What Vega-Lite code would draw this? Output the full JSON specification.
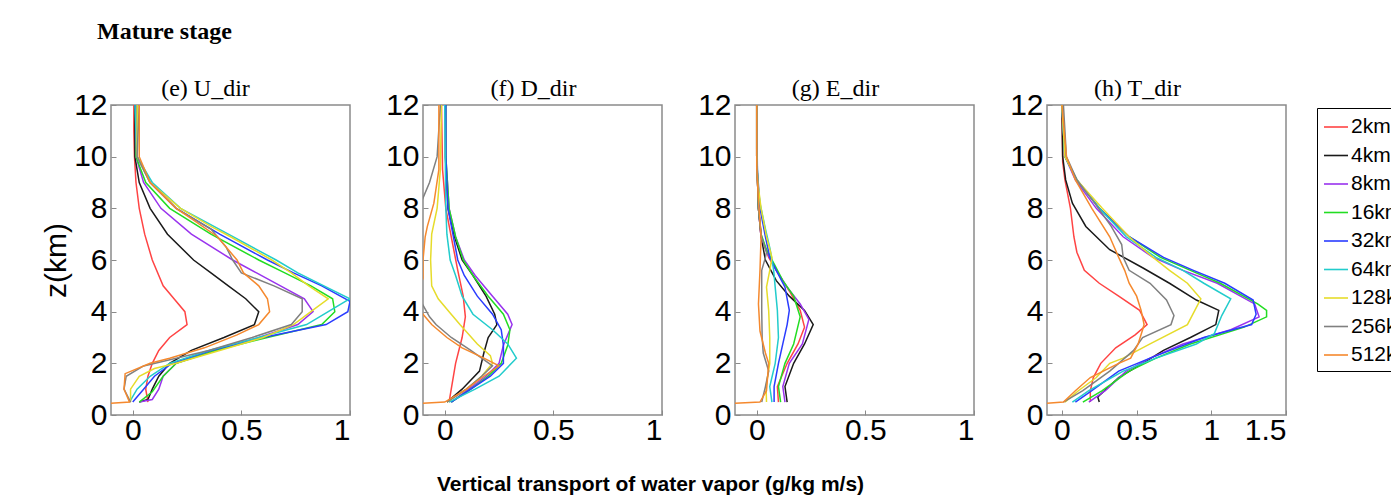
{
  "$schema": "https://vega.github.io/schema/vega-lite/v6.json",
  "background": "white",
  "padding": {"left": 40, "top": 20, "right": 0, "bottom": 5},
  "title": {"text": "Mature stage", "anchor": "start", "frame": "group", "font": "Liberation Serif", "fontSize": 24, "fontWeight": "bold", "color": "black", "dx": -14, "offset": 32},
  "data": {"values": [
{"panel":"e","res":"2km","z":0.5,"flux":0.07},{"panel":"e","res":"2km","z":1.0,"flux":0.06},{"panel":"e","res":"2km","z":1.5,"flux":0.07},{"panel":"e","res":"2km","z":2.0,"flux":0.09},{"panel":"e","res":"2km","z":2.5,"flux":0.12},{"panel":"e","res":"2km","z":3.0,"flux":0.17},{"panel":"e","res":"2km","z":3.5,"flux":0.25},{"panel":"e","res":"2km","z":4.0,"flux":0.24},{"panel":"e","res":"2km","z":4.5,"flux":0.19},{"panel":"e","res":"2km","z":5.0,"flux":0.14},{"panel":"e","res":"2km","z":6.0,"flux":0.09},{"panel":"e","res":"2km","z":7.0,"flux":0.055},{"panel":"e","res":"2km","z":8.0,"flux":0.03},{"panel":"e","res":"2km","z":9.0,"flux":0.015},{"panel":"e","res":"2km","z":10.0,"flux":0.008},{"panel":"e","res":"2km","z":11.0,"flux":0.005},{"panel":"e","res":"2km","z":12.0,"flux":0.005},
{"panel":"e","res":"4km","z":0.5,"flux":0.03},{"panel":"e","res":"4km","z":0.6,"flux":0.07},{"panel":"e","res":"4km","z":1.0,"flux":0.09},{"panel":"e","res":"4km","z":1.5,"flux":0.12},{"panel":"e","res":"4km","z":2.0,"flux":0.17},{"panel":"e","res":"4km","z":2.5,"flux":0.27},{"panel":"e","res":"4km","z":3.0,"flux":0.42},{"panel":"e","res":"4km","z":3.5,"flux":0.56},{"panel":"e","res":"4km","z":4.0,"flux":0.58},{"panel":"e","res":"4km","z":4.5,"flux":0.52},{"panel":"e","res":"4km","z":5.0,"flux":0.44},{"panel":"e","res":"4km","z":5.5,"flux":0.36},{"panel":"e","res":"4km","z":6.0,"flux":0.28},{"panel":"e","res":"4km","z":7.0,"flux":0.16},{"panel":"e","res":"4km","z":8.0,"flux":0.08},{"panel":"e","res":"4km","z":9.0,"flux":0.03},{"panel":"e","res":"4km","z":10.0,"flux":0.01},{"panel":"e","res":"4km","z":12.0,"flux":0.01},
{"panel":"e","res":"8km","z":0.5,"flux":0.03},{"panel":"e","res":"8km","z":0.6,"flux":0.09},{"panel":"e","res":"8km","z":1.0,"flux":0.12},{"panel":"e","res":"8km","z":1.5,"flux":0.14},{"panel":"e","res":"8km","z":2.0,"flux":0.2},{"panel":"e","res":"8km","z":2.5,"flux":0.38},{"panel":"e","res":"8km","z":3.0,"flux":0.58},{"panel":"e","res":"8km","z":3.5,"flux":0.76},{"panel":"e","res":"8km","z":4.0,"flux":0.83},{"panel":"e","res":"8km","z":4.5,"flux":0.79},{"panel":"e","res":"8km","z":5.0,"flux":0.68},{"panel":"e","res":"8km","z":5.5,"flux":0.57},{"panel":"e","res":"8km","z":6.0,"flux":0.46},{"panel":"e","res":"8km","z":7.0,"flux":0.27},{"panel":"e","res":"8km","z":8.0,"flux":0.13},{"panel":"e","res":"8km","z":9.0,"flux":0.05},{"panel":"e","res":"8km","z":10.0,"flux":0.015},{"panel":"e","res":"8km","z":12.0,"flux":0.015},
{"panel":"e","res":"16km","z":0.5,"flux":0.03},{"panel":"e","res":"16km","z":0.9,"flux":0.09},{"panel":"e","res":"16km","z":1.5,"flux":0.14},{"panel":"e","res":"16km","z":2.0,"flux":0.2},{"panel":"e","res":"16km","z":2.5,"flux":0.38},{"panel":"e","res":"16km","z":3.0,"flux":0.62},{"panel":"e","res":"16km","z":3.5,"flux":0.87},{"panel":"e","res":"16km","z":4.0,"flux":0.93},{"panel":"e","res":"16km","z":4.5,"flux":0.92},{"panel":"e","res":"16km","z":5.0,"flux":0.82},{"panel":"e","res":"16km","z":5.5,"flux":0.7},{"panel":"e","res":"16km","z":6.0,"flux":0.58},{"panel":"e","res":"16km","z":7.0,"flux":0.36},{"panel":"e","res":"16km","z":8.0,"flux":0.17},{"panel":"e","res":"16km","z":9.0,"flux":0.06},{"panel":"e","res":"16km","z":10.0,"flux":0.015},{"panel":"e","res":"16km","z":12.0,"flux":0.02},
{"panel":"e","res":"32km","z":0.5,"flux":0.0},{"panel":"e","res":"32km","z":1.0,"flux":0.05},{"panel":"e","res":"32km","z":1.5,"flux":0.1},{"panel":"e","res":"32km","z":2.0,"flux":0.18},{"panel":"e","res":"32km","z":2.5,"flux":0.36},{"panel":"e","res":"32km","z":3.0,"flux":0.6},{"panel":"e","res":"32km","z":3.5,"flux":0.89},{"panel":"e","res":"32km","z":4.0,"flux":0.99},{"panel":"e","res":"32km","z":4.4,"flux":1.0},{"panel":"e","res":"32km","z":5.0,"flux":0.87},{"panel":"e","res":"32km","z":5.5,"flux":0.74},{"panel":"e","res":"32km","z":6.0,"flux":0.62},{"panel":"e","res":"32km","z":7.0,"flux":0.4},{"panel":"e","res":"32km","z":8.0,"flux":0.2},{"panel":"e","res":"32km","z":9.0,"flux":0.08},{"panel":"e","res":"32km","z":10.0,"flux":0.02},{"panel":"e","res":"32km","z":12.0,"flux":0.015},
{"panel":"e","res":"64km","z":0.5,"flux":-0.015},{"panel":"e","res":"64km","z":1.0,"flux":0.02},{"panel":"e","res":"64km","z":1.5,"flux":0.08},{"panel":"e","res":"64km","z":2.0,"flux":0.17},{"panel":"e","res":"64km","z":2.5,"flux":0.35},{"panel":"e","res":"64km","z":3.0,"flux":0.58},{"panel":"e","res":"64km","z":3.5,"flux":0.8},{"panel":"e","res":"64km","z":4.0,"flux":0.9},{"panel":"e","res":"64km","z":4.5,"flux":1.0},{"panel":"e","res":"64km","z":5.0,"flux":0.88},{"panel":"e","res":"64km","z":5.5,"flux":0.76},{"panel":"e","res":"64km","z":6.0,"flux":0.66},{"panel":"e","res":"64km","z":7.0,"flux":0.44},{"panel":"e","res":"64km","z":8.0,"flux":0.22},{"panel":"e","res":"64km","z":9.0,"flux":0.09},{"panel":"e","res":"64km","z":10.0,"flux":0.02},{"panel":"e","res":"64km","z":12.0,"flux":0.01},
{"panel":"e","res":"128km","z":0.5,"flux":-0.01},{"panel":"e","res":"128km","z":1.0,"flux":-0.01},{"panel":"e","res":"128km","z":1.5,"flux":0.03},{"panel":"e","res":"128km","z":1.8,"flux":0.1},{"panel":"e","res":"128km","z":2.0,"flux":0.2},{"panel":"e","res":"128km","z":2.5,"flux":0.4},{"panel":"e","res":"128km","z":3.0,"flux":0.6},{"panel":"e","res":"128km","z":3.5,"flux":0.74},{"panel":"e","res":"128km","z":4.0,"flux":0.82},{"panel":"e","res":"128km","z":4.5,"flux":0.9},{"panel":"e","res":"128km","z":5.0,"flux":0.81},{"panel":"e","res":"128km","z":5.5,"flux":0.73},{"panel":"e","res":"128km","z":6.0,"flux":0.64},{"panel":"e","res":"128km","z":6.9,"flux":0.45},{"panel":"e","res":"128km","z":7.3,"flux":0.36},{"panel":"e","res":"128km","z":8.0,"flux":0.22},{"panel":"e","res":"128km","z":9.0,"flux":0.08},{"panel":"e","res":"128km","z":10.0,"flux":0.02},{"panel":"e","res":"128km","z":12.0,"flux":0.02},
{"panel":"e","res":"256km","z":0.5,"flux":-0.01},{"panel":"e","res":"256km","z":1.0,"flux":-0.04},{"panel":"e","res":"256km","z":1.5,"flux":-0.03},{"panel":"e","res":"256km","z":1.9,"flux":0.05},{"panel":"e","res":"256km","z":2.2,"flux":0.2},{"panel":"e","res":"256km","z":2.5,"flux":0.35},{"panel":"e","res":"256km","z":3.0,"flux":0.55},{"panel":"e","res":"256km","z":3.5,"flux":0.73},{"panel":"e","res":"256km","z":4.0,"flux":0.78},{"panel":"e","res":"256km","z":4.5,"flux":0.78},{"panel":"e","res":"256km","z":5.0,"flux":0.65},{"panel":"e","res":"256km","z":5.5,"flux":0.5},{"panel":"e","res":"256km","z":6.0,"flux":0.46},{"panel":"e","res":"256km","z":6.5,"flux":0.43},{"panel":"e","res":"256km","z":7.2,"flux":0.36},{"panel":"e","res":"256km","z":8.0,"flux":0.2},{"panel":"e","res":"256km","z":9.0,"flux":0.08},{"panel":"e","res":"256km","z":10.0,"flux":0.02},{"panel":"e","res":"256km","z":12.0,"flux":0.03},
{"panel":"e","res":"512km","z":0.45,"flux":-0.1},{"panel":"e","res":"512km","z":0.5,"flux":-0.015},{"panel":"e","res":"512km","z":1.0,"flux":-0.04},{"panel":"e","res":"512km","z":1.6,"flux":-0.035},{"panel":"e","res":"512km","z":2.0,"flux":0.08},{"panel":"e","res":"512km","z":2.2,"flux":0.17},{"panel":"e","res":"512km","z":2.6,"flux":0.33},{"panel":"e","res":"512km","z":3.1,"flux":0.48},{"panel":"e","res":"512km","z":3.5,"flux":0.58},{"panel":"e","res":"512km","z":4.0,"flux":0.63},{"panel":"e","res":"512km","z":4.5,"flux":0.62},{"panel":"e","res":"512km","z":5.0,"flux":0.58},{"panel":"e","res":"512km","z":5.5,"flux":0.51},{"panel":"e","res":"512km","z":6.0,"flux":0.48},{"panel":"e","res":"512km","z":6.9,"flux":0.39},{"panel":"e","res":"512km","z":7.6,"flux":0.27},{"panel":"e","res":"512km","z":8.0,"flux":0.2},{"panel":"e","res":"512km","z":9.0,"flux":0.08},{"panel":"e","res":"512km","z":10.0,"flux":0.03},{"panel":"e","res":"512km","z":12.0,"flux":0.03},

{"panel":"f","res":"2km","z":0.5,"flux":0.02},{"panel":"f","res":"2km","z":1.0,"flux":0.03},{"panel":"f","res":"2km","z":2.0,"flux":0.05},{"panel":"f","res":"2km","z":3.0,"flux":0.08},{"panel":"f","res":"2km","z":3.8,"flux":0.095},{"panel":"f","res":"2km","z":4.6,"flux":0.085},{"panel":"f","res":"2km","z":5.6,"flux":0.06},{"panel":"f","res":"2km","z":6.9,"flux":0.03},{"panel":"f","res":"2km","z":8.0,"flux":0.005},{"panel":"f","res":"2km","z":9.5,"flux":-0.01},{"panel":"f","res":"2km","z":12.0,"flux":-0.015},
{"panel":"f","res":"4km","z":0.5,"flux":0.01},{"panel":"f","res":"4km","z":1.0,"flux":0.08},{"panel":"f","res":"4km","z":1.7,"flux":0.16},{"panel":"f","res":"4km","z":2.4,"flux":0.18},{"panel":"f","res":"4km","z":3.0,"flux":0.2},{"panel":"f","res":"4km","z":3.5,"flux":0.24},{"panel":"f","res":"4km","z":3.9,"flux":0.23},{"panel":"f","res":"4km","z":4.6,"flux":0.19},{"panel":"f","res":"4km","z":5.4,"flux":0.13},{"panel":"f","res":"4km","z":6.0,"flux":0.08},{"panel":"f","res":"4km","z":6.9,"flux":0.045},{"panel":"f","res":"4km","z":8.0,"flux":0.015},{"panel":"f","res":"4km","z":10.0,"flux":0.003},{"panel":"f","res":"4km","z":12.0,"flux":0.003},
{"panel":"f","res":"8km","z":0.5,"flux":0.03},{"panel":"f","res":"8km","z":1.0,"flux":0.11},{"panel":"f","res":"8km","z":1.5,"flux":0.19},{"panel":"f","res":"8km","z":2.0,"flux":0.25},{"panel":"f","res":"8km","z":2.7,"flux":0.27},{"panel":"f","res":"8km","z":3.5,"flux":0.31},{"panel":"f","res":"8km","z":3.9,"flux":0.29},{"panel":"f","res":"8km","z":4.6,"flux":0.22},{"panel":"f","res":"8km","z":5.4,"flux":0.14},{"panel":"f","res":"8km","z":6.0,"flux":0.09},{"panel":"f","res":"8km","z":6.9,"flux":0.05},{"panel":"f","res":"8km","z":8.0,"flux":0.02},{"panel":"f","res":"8km","z":10.0,"flux":0.005},{"panel":"f","res":"8km","z":12.0,"flux":0.003},
{"panel":"f","res":"16km","z":0.5,"flux":0.03},{"panel":"f","res":"16km","z":1.0,"flux":0.12},{"panel":"f","res":"16km","z":1.5,"flux":0.2},{"panel":"f","res":"16km","z":2.0,"flux":0.26},{"panel":"f","res":"16km","z":2.7,"flux":0.29},{"panel":"f","res":"16km","z":3.3,"flux":0.3},{"panel":"f","res":"16km","z":3.9,"flux":0.27},{"panel":"f","res":"16km","z":4.6,"flux":0.2},{"panel":"f","res":"16km","z":5.4,"flux":0.13},{"panel":"f","res":"16km","z":6.0,"flux":0.085},{"panel":"f","res":"16km","z":6.9,"flux":0.05},{"panel":"f","res":"16km","z":8.0,"flux":0.02},{"panel":"f","res":"16km","z":10.0,"flux":0.005},{"panel":"f","res":"16km","z":12.0,"flux":0.005},
{"panel":"f","res":"32km","z":0.5,"flux":0.03},{"panel":"f","res":"32km","z":1.0,"flux":0.12},{"panel":"f","res":"32km","z":1.5,"flux":0.21},{"panel":"f","res":"32km","z":2.0,"flux":0.27},{"panel":"f","res":"32km","z":2.7,"flux":0.27},{"panel":"f","res":"32km","z":3.3,"flux":0.26},{"panel":"f","res":"32km","z":3.9,"flux":0.22},{"panel":"f","res":"32km","z":4.6,"flux":0.15},{"panel":"f","res":"32km","z":5.4,"flux":0.09},{"panel":"f","res":"32km","z":6.0,"flux":0.06},{"panel":"f","res":"32km","z":6.9,"flux":0.04},{"panel":"f","res":"32km","z":8.0,"flux":0.015},{"panel":"f","res":"32km","z":10.0,"flux":0.005},{"panel":"f","res":"32km","z":12.0,"flux":0.005},
{"panel":"f","res":"64km","z":0.5,"flux":0.02},{"panel":"f","res":"64km","z":1.0,"flux":0.14},{"panel":"f","res":"64km","z":1.5,"flux":0.25},{"panel":"f","res":"64km","z":2.2,"flux":0.33},{"panel":"f","res":"64km","z":2.75,"flux":0.29},{"panel":"f","res":"64km","z":3.3,"flux":0.22},{"panel":"f","res":"64km","z":3.9,"flux":0.13},{"panel":"f","res":"64km","z":4.6,"flux":0.08},{"panel":"f","res":"64km","z":5.4,"flux":0.05},{"panel":"f","res":"64km","z":6.0,"flux":0.025},{"panel":"f","res":"64km","z":7.0,"flux":0.01},{"panel":"f","res":"64km","z":8.0,"flux":0.005},{"panel":"f","res":"64km","z":12.0,"flux":0.0},
{"panel":"f","res":"128km","z":0.5,"flux":0.01},{"panel":"f","res":"128km","z":1.0,"flux":0.1},{"panel":"f","res":"128km","z":1.5,"flux":0.17},{"panel":"f","res":"128km","z":2.0,"flux":0.22},{"panel":"f","res":"128km","z":2.3,"flux":0.21},{"panel":"f","res":"128km","z":2.75,"flux":0.15},{"panel":"f","res":"128km","z":3.5,"flux":0.07},{"panel":"f","res":"128km","z":4.0,"flux":0.02},{"panel":"f","res":"128km","z":4.5,"flux":-0.03},{"panel":"f","res":"128km","z":5.0,"flux":-0.06},{"panel":"f","res":"128km","z":6.0,"flux":-0.065},{"panel":"f","res":"128km","z":7.0,"flux":-0.06},{"panel":"f","res":"128km","z":8.0,"flux":-0.035},{"panel":"f","res":"128km","z":9.5,"flux":-0.02},{"panel":"f","res":"128km","z":12.0,"flux":-0.015},
{"panel":"f","res":"256km","z":0.5,"flux":0.01},{"panel":"f","res":"256km","z":1.0,"flux":0.1},{"panel":"f","res":"256km","z":1.5,"flux":0.17},{"panel":"f","res":"256km","z":1.9,"flux":0.22},{"panel":"f","res":"256km","z":2.5,"flux":0.12},{"panel":"f","res":"256km","z":3.0,"flux":0.03},{"panel":"f","res":"256km","z":3.5,"flux":-0.04},{"panel":"f","res":"256km","z":3.8,"flux":-0.07},{"panel":"f","res":"256km","z":4.25,"flux":-0.1},{"panel":"f","res":"256km","z":5.0,"flux":-0.14},{"panel":"f","res":"256km","z":6.0,"flux":-0.15},{"panel":"f","res":"256km","z":7.0,"flux":-0.14},{"panel":"f","res":"256km","z":8.0,"flux":-0.12},{"panel":"f","res":"256km","z":9.0,"flux":-0.07},{"panel":"f","res":"256km","z":10.0,"flux":-0.035},{"panel":"f","res":"256km","z":12.0,"flux":-0.02},
{"panel":"f","res":"512km","z":0.45,"flux":-0.1},{"panel":"f","res":"512km","z":0.5,"flux":0.0},{"panel":"f","res":"512km","z":1.0,"flux":0.1},{"panel":"f","res":"512km","z":1.5,"flux":0.18},{"panel":"f","res":"512km","z":1.9,"flux":0.25},{"panel":"f","res":"512km","z":2.2,"flux":0.18},{"panel":"f","res":"512km","z":2.6,"flux":0.08},{"panel":"f","res":"512km","z":3.0,"flux":0.01},{"panel":"f","res":"512km","z":3.5,"flux":-0.06},{"panel":"f","res":"512km","z":3.9,"flux":-0.1},{"panel":"f","res":"512km","z":4.5,"flux":-0.13},{"panel":"f","res":"512km","z":5.3,"flux":-0.1},{"panel":"f","res":"512km","z":6.0,"flux":-0.1},{"panel":"f","res":"512km","z":6.9,"flux":-0.09},{"panel":"f","res":"512km","z":7.3,"flux":-0.08},{"panel":"f","res":"512km","z":8.2,"flux":-0.05},{"panel":"f","res":"512km","z":9.5,"flux":-0.027},{"panel":"f","res":"512km","z":12.0,"flux":-0.027},

{"panel":"g","res":"2km","z":0.5,"flux":0.1},{"panel":"g","res":"2km","z":1.1,"flux":0.095},{"panel":"g","res":"2km","z":2.0,"flux":0.14},{"panel":"g","res":"2km","z":2.75,"flux":0.19},{"panel":"g","res":"2km","z":3.4,"flux":0.22},{"panel":"g","res":"2km","z":4.05,"flux":0.2},{"panel":"g","res":"2km","z":4.8,"flux":0.15},{"panel":"g","res":"2km","z":5.6,"flux":0.09},{"panel":"g","res":"2km","z":6.1,"flux":0.055},{"panel":"g","res":"2km","z":6.9,"flux":0.02},{"panel":"g","res":"2km","z":8.0,"flux":0.008},{"panel":"g","res":"2km","z":10.0,"flux":0.0},{"panel":"g","res":"2km","z":12.0,"flux":0.0},
{"panel":"g","res":"4km","z":0.5,"flux":0.14},{"panel":"g","res":"4km","z":1.1,"flux":0.13},{"panel":"g","res":"4km","z":2.0,"flux":0.17},{"panel":"g","res":"4km","z":2.75,"flux":0.22},{"panel":"g","res":"4km","z":3.5,"flux":0.26},{"panel":"g","res":"4km","z":4.05,"flux":0.22},{"panel":"g","res":"4km","z":4.6,"flux":0.15},{"panel":"g","res":"4km","z":5.2,"flux":0.09},{"panel":"g","res":"4km","z":6.0,"flux":0.04},{"panel":"g","res":"4km","z":6.9,"flux":0.02},{"panel":"g","res":"4km","z":8.0,"flux":0.008},{"panel":"g","res":"4km","z":10.0,"flux":0.0},{"panel":"g","res":"4km","z":12.0,"flux":0.0},
{"panel":"g","res":"8km","z":0.5,"flux":0.13},{"panel":"g","res":"8km","z":1.1,"flux":0.12},{"panel":"g","res":"8km","z":2.0,"flux":0.15},{"panel":"g","res":"8km","z":2.75,"flux":0.21},{"panel":"g","res":"8km","z":3.7,"flux":0.24},{"panel":"g","res":"8km","z":4.3,"flux":0.2},{"panel":"g","res":"8km","z":4.95,"flux":0.14},{"panel":"g","res":"8km","z":5.6,"flux":0.09},{"panel":"g","res":"8km","z":6.25,"flux":0.05},{"panel":"g","res":"8km","z":6.9,"flux":0.02},{"panel":"g","res":"8km","z":8.0,"flux":0.008},{"panel":"g","res":"8km","z":10.0,"flux":0.0},{"panel":"g","res":"8km","z":12.0,"flux":0.0},
{"panel":"g","res":"16km","z":0.5,"flux":0.11},{"panel":"g","res":"16km","z":1.1,"flux":0.1},{"panel":"g","res":"16km","z":2.0,"flux":0.13},{"panel":"g","res":"16km","z":2.75,"flux":0.17},{"panel":"g","res":"16km","z":3.8,"flux":0.2},{"panel":"g","res":"16km","z":4.6,"flux":0.17},{"panel":"g","res":"16km","z":5.2,"flux":0.12},{"panel":"g","res":"16km","z":5.85,"flux":0.08},{"panel":"g","res":"16km","z":6.4,"flux":0.045},{"panel":"g","res":"16km","z":7.0,"flux":0.02},{"panel":"g","res":"16km","z":8.0,"flux":0.008},{"panel":"g","res":"16km","z":10.0,"flux":0.0},{"panel":"g","res":"16km","z":12.0,"flux":0.0},
{"panel":"g","res":"32km","z":0.5,"flux":0.08},{"panel":"g","res":"32km","z":1.1,"flux":0.08},{"panel":"g","res":"32km","z":2.0,"flux":0.1},{"panel":"g","res":"32km","z":2.75,"flux":0.12},{"panel":"g","res":"32km","z":3.5,"flux":0.14},{"panel":"g","res":"32km","z":4.05,"flux":0.15},{"panel":"g","res":"32km","z":4.95,"flux":0.13},{"panel":"g","res":"32km","z":5.6,"flux":0.09},{"panel":"g","res":"32km","z":6.1,"flux":0.06},{"panel":"g","res":"32km","z":6.9,"flux":0.04},{"panel":"g","res":"32km","z":8.0,"flux":0.015},{"panel":"g","res":"32km","z":9.5,"flux":0.003},{"panel":"g","res":"32km","z":12.0,"flux":0.0},
{"panel":"g","res":"64km","z":0.5,"flux":0.07},{"panel":"g","res":"64km","z":1.1,"flux":0.06},{"panel":"g","res":"64km","z":2.0,"flux":0.085},{"panel":"g","res":"64km","z":3.0,"flux":0.1},{"panel":"g","res":"64km","z":4.05,"flux":0.095},{"panel":"g","res":"64km","z":4.95,"flux":0.085},{"panel":"g","res":"64km","z":5.6,"flux":0.078},{"panel":"g","res":"64km","z":6.4,"flux":0.062},{"panel":"g","res":"64km","z":7.2,"flux":0.04},{"panel":"g","res":"64km","z":8.2,"flux":0.015},{"panel":"g","res":"64km","z":9.0,"flux":0.005},{"panel":"g","res":"64km","z":10.3,"flux":0.0},{"panel":"g","res":"64km","z":12.0,"flux":0.0},
{"panel":"g","res":"128km","z":0.5,"flux":0.045},{"panel":"g","res":"128km","z":1.1,"flux":0.043},{"panel":"g","res":"128km","z":2.0,"flux":0.06},{"panel":"g","res":"128km","z":3.0,"flux":0.06},{"panel":"g","res":"128km","z":4.05,"flux":0.055},{"panel":"g","res":"128km","z":4.95,"flux":0.045},{"panel":"g","res":"128km","z":5.6,"flux":0.06},{"panel":"g","res":"128km","z":6.1,"flux":0.07},{"panel":"g","res":"128km","z":6.9,"flux":0.045},{"panel":"g","res":"128km","z":8.0,"flux":0.02},{"panel":"g","res":"128km","z":9.0,"flux":0.005},{"panel":"g","res":"128km","z":10.0,"flux":0.0},{"panel":"g","res":"128km","z":12.0,"flux":0.0},
{"panel":"g","res":"256km","z":0.5,"flux":0.023},{"panel":"g","res":"256km","z":1.1,"flux":0.04},{"panel":"g","res":"256km","z":1.7,"flux":0.055},{"panel":"g","res":"256km","z":2.4,"flux":0.03},{"panel":"g","res":"256km","z":3.0,"flux":0.025},{"panel":"g","res":"256km","z":4.05,"flux":0.023},{"panel":"g","res":"256km","z":5.6,"flux":0.023},{"panel":"g","res":"256km","z":6.1,"flux":0.04},{"panel":"g","res":"256km","z":6.3,"flux":0.045},{"panel":"g","res":"256km","z":6.9,"flux":0.022},{"panel":"g","res":"256km","z":8.0,"flux":0.008},{"panel":"g","res":"256km","z":10.0,"flux":0.0},{"panel":"g","res":"256km","z":12.0,"flux":0.0},
{"panel":"g","res":"512km","z":0.45,"flux":-0.1},{"panel":"g","res":"512km","z":0.5,"flux":0.015},{"panel":"g","res":"512km","z":0.94,"flux":0.045},{"panel":"g","res":"512km","z":2.0,"flux":0.055},{"panel":"g","res":"512km","z":2.4,"flux":0.04},{"panel":"g","res":"512km","z":3.25,"flux":0.015},{"panel":"g","res":"512km","z":4.3,"flux":0.008},{"panel":"g","res":"512km","z":5.6,"flux":0.015},{"panel":"g","res":"512km","z":6.9,"flux":0.02},{"panel":"g","res":"512km","z":8.3,"flux":0.008},{"panel":"g","res":"512km","z":9.6,"flux":0.0},{"panel":"g","res":"512km","z":12.0,"flux":0.0},

{"panel":"h","res":"2km","z":0.5,"flux":0.19},{"panel":"h","res":"2km","z":0.94,"flux":0.19},{"panel":"h","res":"2km","z":1.45,"flux":0.21},{"panel":"h","res":"2km","z":2.0,"flux":0.26},{"panel":"h","res":"2km","z":2.6,"flux":0.36},{"panel":"h","res":"2km","z":3.1,"flux":0.49},{"panel":"h","res":"2km","z":3.5,"flux":0.57},{"panel":"h","res":"2km","z":4.05,"flux":0.52},{"panel":"h","res":"2km","z":4.6,"flux":0.38},{"panel":"h","res":"2km","z":5.1,"flux":0.25},{"panel":"h","res":"2km","z":5.6,"flux":0.15},{"panel":"h","res":"2km","z":6.3,"flux":0.1},{"panel":"h","res":"2km","z":6.9,"flux":0.08},{"panel":"h","res":"2km","z":8.0,"flux":0.057},{"panel":"h","res":"2km","z":9.1,"flux":0.02},{"panel":"h","res":"2km","z":9.8,"flux":0.005},{"panel":"h","res":"2km","z":12.0,"flux":0.0},
{"panel":"h","res":"4km","z":0.5,"flux":0.25},{"panel":"h","res":"4km","z":0.7,"flux":0.24},{"panel":"h","res":"4km","z":1.45,"flux":0.38},{"panel":"h","res":"4km","z":2.0,"flux":0.54},{"panel":"h","res":"4km","z":2.5,"flux":0.68},{"panel":"h","res":"4km","z":3.0,"flux":0.86},{"panel":"h","res":"4km","z":3.5,"flux":1.03},{"panel":"h","res":"4km","z":4.05,"flux":1.05},{"panel":"h","res":"4km","z":4.45,"flux":0.9},{"panel":"h","res":"4km","z":5.1,"flux":0.72},{"panel":"h","res":"4km","z":5.7,"flux":0.54},{"panel":"h","res":"4km","z":6.4,"flux":0.32},{"panel":"h","res":"4km","z":7.3,"flux":0.16},{"panel":"h","res":"4km","z":8.2,"flux":0.07},{"panel":"h","res":"4km","z":9.1,"flux":0.025},{"panel":"h","res":"4km","z":10.0,"flux":0.005},{"panel":"h","res":"4km","z":12.0,"flux":0.0},
{"panel":"h","res":"8km","z":0.5,"flux":0.18},{"panel":"h","res":"8km","z":0.94,"flux":0.29},{"panel":"h","res":"8km","z":1.7,"flux":0.43},{"panel":"h","res":"8km","z":2.2,"flux":0.59},{"panel":"h","res":"8km","z":2.75,"flux":0.81},{"panel":"h","res":"8km","z":3.3,"flux":1.13},{"panel":"h","res":"8km","z":3.8,"flux":1.32},{"panel":"h","res":"8km","z":4.3,"flux":1.29},{"panel":"h","res":"8km","z":5.1,"flux":1.04},{"panel":"h","res":"8km","z":5.6,"flux":0.81},{"panel":"h","res":"8km","z":6.1,"flux":0.61},{"panel":"h","res":"8km","z":6.9,"flux":0.41},{"panel":"h","res":"8km","z":8.0,"flux":0.23},{"panel":"h","res":"8km","z":9.1,"flux":0.09},{"panel":"h","res":"8km","z":10.0,"flux":0.02},{"panel":"h","res":"8km","z":12.0,"flux":0.0},
{"panel":"h","res":"16km","z":0.5,"flux":0.14},{"panel":"h","res":"16km","z":0.94,"flux":0.27},{"panel":"h","res":"16km","z":1.7,"flux":0.45},{"panel":"h","res":"16km","z":2.2,"flux":0.63},{"panel":"h","res":"16km","z":2.75,"flux":0.86},{"panel":"h","res":"16km","z":3.4,"flux":1.22},{"panel":"h","res":"16km","z":3.8,"flux":1.37},{"panel":"h","res":"16km","z":4.05,"flux":1.37},{"panel":"h","res":"16km","z":4.3,"flux":1.31},{"panel":"h","res":"16km","z":5.1,"flux":1.06},{"panel":"h","res":"16km","z":5.6,"flux":0.86},{"panel":"h","res":"16km","z":6.1,"flux":0.66},{"panel":"h","res":"16km","z":6.9,"flux":0.45},{"panel":"h","res":"16km","z":8.0,"flux":0.25},{"panel":"h","res":"16km","z":9.1,"flux":0.1},{"panel":"h","res":"16km","z":10.0,"flux":0.02},{"panel":"h","res":"16km","z":12.0,"flux":0.0},
{"panel":"h","res":"32km","z":0.5,"flux":0.09},{"panel":"h","res":"32km","z":0.94,"flux":0.2},{"panel":"h","res":"32km","z":1.7,"flux":0.38},{"panel":"h","res":"32km","z":2.2,"flux":0.59},{"panel":"h","res":"32km","z":3.0,"flux":0.95},{"panel":"h","res":"32km","z":3.5,"flux":1.27},{"panel":"h","res":"32km","z":3.9,"flux":1.3},{"panel":"h","res":"32km","z":4.45,"flux":1.28},{"panel":"h","res":"32km","z":5.1,"flux":1.09},{"panel":"h","res":"32km","z":5.6,"flux":0.88},{"panel":"h","res":"32km","z":6.1,"flux":0.68},{"panel":"h","res":"32km","z":6.9,"flux":0.45},{"panel":"h","res":"32km","z":8.0,"flux":0.25},{"panel":"h","res":"32km","z":9.1,"flux":0.1},{"panel":"h","res":"32km","z":10.0,"flux":0.02},{"panel":"h","res":"32km","z":12.0,"flux":0.0},
{"panel":"h","res":"64km","z":0.5,"flux":0.07},{"panel":"h","res":"64km","z":0.94,"flux":0.18},{"panel":"h","res":"64km","z":1.7,"flux":0.41},{"panel":"h","res":"64km","z":2.2,"flux":0.63},{"panel":"h","res":"64km","z":2.75,"flux":0.9},{"panel":"h","res":"64km","z":3.15,"flux":1.02},{"panel":"h","res":"64km","z":3.85,"flux":1.07},{"panel":"h","res":"64km","z":4.5,"flux":1.13},{"panel":"h","res":"64km","z":5.1,"flux":0.95},{"panel":"h","res":"64km","z":5.6,"flux":0.81},{"panel":"h","res":"64km","z":6.1,"flux":0.63},{"panel":"h","res":"64km","z":6.9,"flux":0.43},{"panel":"h","res":"64km","z":8.0,"flux":0.25},{"panel":"h","res":"64km","z":9.1,"flux":0.1},{"panel":"h","res":"64km","z":10.0,"flux":0.02},{"panel":"h","res":"64km","z":12.0,"flux":0.0},
{"panel":"h","res":"128km","z":0.5,"flux":0.02},{"panel":"h","res":"128km","z":0.94,"flux":0.11},{"panel":"h","res":"128km","z":1.45,"flux":0.23},{"panel":"h","res":"128km","z":2.0,"flux":0.32},{"panel":"h","res":"128km","z":2.2,"flux":0.41},{"panel":"h","res":"128km","z":2.75,"flux":0.59},{"panel":"h","res":"128km","z":3.5,"flux":0.84},{"panel":"h","res":"128km","z":4.5,"flux":0.93},{"panel":"h","res":"128km","z":5.1,"flux":0.84},{"panel":"h","res":"128km","z":5.6,"flux":0.72},{"panel":"h","res":"128km","z":6.1,"flux":0.61},{"panel":"h","res":"128km","z":6.9,"flux":0.45},{"panel":"h","res":"128km","z":8.0,"flux":0.27},{"panel":"h","res":"128km","z":9.1,"flux":0.1},{"panel":"h","res":"128km","z":10.0,"flux":0.02},{"panel":"h","res":"128km","z":12.0,"flux":0.0},
{"panel":"h","res":"256km","z":0.5,"flux":0.01},{"panel":"h","res":"256km","z":0.94,"flux":0.14},{"panel":"h","res":"256km","z":1.7,"flux":0.32},{"panel":"h","res":"256km","z":2.5,"flux":0.48},{"panel":"h","res":"256km","z":3.0,"flux":0.54},{"panel":"h","res":"256km","z":3.5,"flux":0.73},{"panel":"h","res":"256km","z":3.85,"flux":0.75},{"panel":"h","res":"256km","z":4.45,"flux":0.7},{"panel":"h","res":"256km","z":5.1,"flux":0.59},{"panel":"h","res":"256km","z":5.6,"flux":0.45},{"panel":"h","res":"256km","z":6.1,"flux":0.41},{"panel":"h","res":"256km","z":6.6,"flux":0.4},{"panel":"h","res":"256km","z":7.3,"flux":0.33},{"panel":"h","res":"256km","z":8.2,"flux":0.22},{"panel":"h","res":"256km","z":9.1,"flux":0.1},{"panel":"h","res":"256km","z":10.0,"flux":0.03},{"panel":"h","res":"256km","z":12.0,"flux":0.01},
{"panel":"h","res":"512km","z":0.45,"flux":-0.1},{"panel":"h","res":"512km","z":0.5,"flux":0.01},{"panel":"h","res":"512km","z":0.94,"flux":0.09},{"panel":"h","res":"512km","z":1.45,"flux":0.19},{"panel":"h","res":"512km","z":2.0,"flux":0.38},{"panel":"h","res":"512km","z":2.2,"flux":0.46},{"panel":"h","res":"512km","z":2.75,"flux":0.51},{"panel":"h","res":"512km","z":3.3,"flux":0.54},{"panel":"h","res":"512km","z":3.5,"flux":0.55},{"panel":"h","res":"512km","z":4.05,"flux":0.53},{"panel":"h","res":"512km","z":4.6,"flux":0.5},{"panel":"h","res":"512km","z":5.1,"flux":0.45},{"panel":"h","res":"512km","z":5.6,"flux":0.42},{"panel":"h","res":"512km","z":6.1,"flux":0.38},{"panel":"h","res":"512km","z":6.9,"flux":0.32},{"panel":"h","res":"512km","z":8.0,"flux":0.2},{"panel":"h","res":"512km","z":9.1,"flux":0.09},{"panel":"h","res":"512km","z":10.0,"flux":0.03},{"panel":"h","res":"512km","z":12.0,"flux":0.0}
  ]},
  "spacing": 73,
  "bounds": "flush",
  "resolve": {"scale": {"x": "independent", "y": "shared", "color": "shared"}},
  "hconcat": [
    {
      "title": {"text": "(e) U_dir", "font": "Liberation Serif", "fontSize": 24, "fontWeight": "normal", "color": "black", "offset": -11, "dx": -25},
      "width": 239, "height": 310,
      "transform": [{"filter": "datum.panel == 'e'"}],
      "mark": {"type": "line", "clip": true, "strokeWidth": 1.5},
      "encoding": {
        "x": {"field": "flux", "type": "quantitative", "scale": {"domain": [-0.1, 1.0], "nice": false, "zero": false}, "axis": {"values": [0, 0.5, 1], "format": "~g", "labelPadding": 5, "title": null}},
        "y": {"field": "z", "type": "quantitative", "scale": {"domain": [0, 12], "nice": false}, "axis": {"values": [0, 2, 4, 6, 8, 10, 12], "title": "z(km)", "titlePadding": 2}},
        "color": {"field": "res", "type": "nominal", "sort": ["2km", "4km", "8km", "16km", "32km", "64km", "128km", "256km", "512km"],
          "scale": {"domain": ["2km", "4km", "8km", "16km", "32km", "64km", "128km", "256km", "512km"], "range": ["#ff4444", "#1a1a1a", "#9933ee", "#22dd22", "#2a3cff", "#22cccc", "#e6dc2a", "#808080", "#f5892e"]},
          "legend": {"title": null, "orient": "none", "legendX": 1206, "legendY": 3, "symbolType": "stroke", "symbolSize": 576, "symbolStrokeWidth": 1.6, "labelFont": "Liberation Sans", "labelFontSize": 21, "labelColor": "black", "strokeColor": "black", "padding": 6, "rowPadding": 5.5, "labelOffset": 2}},
        "order": {"field": "z", "type": "quantitative"}
      }
    },
    {
      "title": {"text": "(f) D_dir", "font": "Liberation Serif", "fontSize": 24, "fontWeight": "normal", "color": "black", "offset": -11, "dx": -9},
      "width": 239, "height": 310,
      "transform": [{"filter": "datum.panel == 'f'"}],
      "mark": {"type": "line", "clip": true, "strokeWidth": 1.5},
      "encoding": {
        "x": {"field": "flux", "type": "quantitative", "scale": {"domain": [-0.1, 1.0], "nice": false, "zero": false}, "axis": {"values": [0, 0.5, 1], "format": "~g", "labelPadding": 5, "title": "Vertical transport of water vapor (g/kg m/s)", "titleFont": "Liberation Sans", "titleFontSize": 21, "titleFontWeight": "bold", "titleX": 227, "titleY": 75, "titleAlign": "center", "titleBaseline": "alphabetic"}},
        "y": {"field": "z", "type": "quantitative", "scale": {"domain": [0, 12], "nice": false}, "axis": {"values": [0, 2, 4, 6, 8, 10, 12], "title": null}},
        "color": {"field": "res", "type": "nominal"},
        "order": {"field": "z", "type": "quantitative"}
      }
    },
    {
      "title": {"text": "(g) E_dir", "font": "Liberation Serif", "fontSize": 24, "fontWeight": "normal", "color": "black", "offset": -11, "dx": -19},
      "width": 239, "height": 310,
      "transform": [{"filter": "datum.panel == 'g'"}],
      "mark": {"type": "line", "clip": true, "strokeWidth": 1.5},
      "encoding": {
        "x": {"field": "flux", "type": "quantitative", "scale": {"domain": [-0.1, 1.0], "nice": false, "zero": false}, "axis": {"values": [0, 0.5, 1], "format": "~g", "labelPadding": 5, "title": null}},
        "y": {"field": "z", "type": "quantitative", "scale": {"domain": [0, 12], "nice": false}, "axis": {"values": [0, 2, 4, 6, 8, 10, 12], "title": null}},
        "color": {"field": "res", "type": "nominal"},
        "order": {"field": "z", "type": "quantitative"}
      }
    },
    {
      "title": {"text": "(h) T_dir", "font": "Liberation Serif", "fontSize": 24, "fontWeight": "normal", "color": "black", "offset": -11, "dx": -29},
      "width": 239, "height": 310,
      "transform": [{"filter": "datum.panel == 'h'"}],
      "mark": {"type": "line", "clip": true, "strokeWidth": 1.5},
      "encoding": {
        "x": {"field": "flux", "type": "quantitative", "scale": {"domain": [-0.1, 1.5], "nice": false, "zero": false}, "axis": {"values": [0, 0.5, 1, 1.5], "format": "~g", "labelPadding": 5, "title": null}},
        "y": {"field": "z", "type": "quantitative", "scale": {"domain": [0, 12], "nice": false}, "axis": {"values": [0, 2, 4, 6, 8, 10, 12], "title": null}},
        "color": {"field": "res", "type": "nominal"},
        "order": {"field": "z", "type": "quantitative"}
      }
    }
  ],
  "config": {
    "view": {"stroke": "#8a8a8a", "strokeWidth": 1.5},
    "axis": {"grid": false, "domain": false, "tickSize": -5, "tickColor": "#8a8a8a", "labelFont": "Liberation Sans", "labelFontSize": 30, "labelColor": "black", "labelPadding": 9, "titleFont": "Liberation Sans", "titleFontSize": 30, "titleFontWeight": "normal", "titleColor": "black"}
  }
}
